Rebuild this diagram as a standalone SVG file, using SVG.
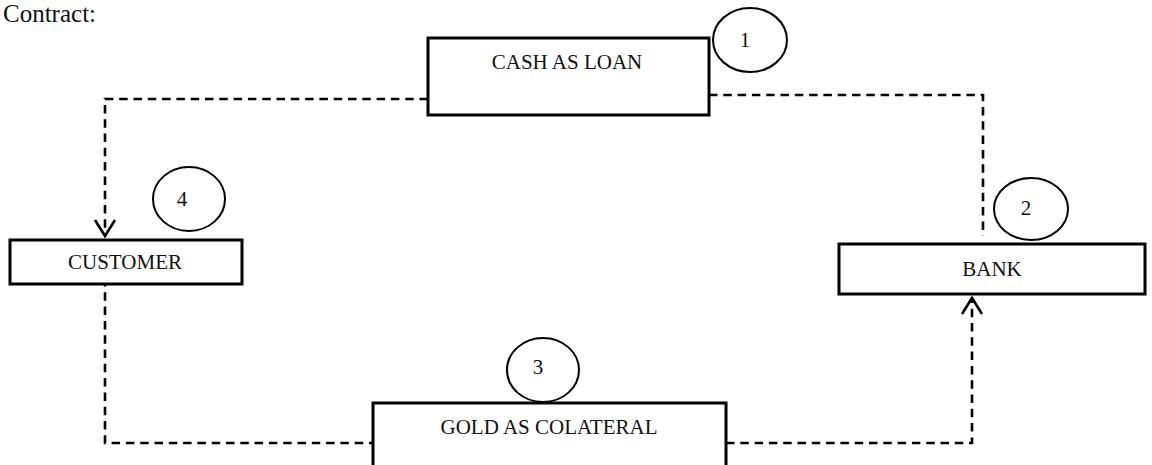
<svg xmlns="http://www.w3.org/2000/svg" width="1152" height="465" viewBox="0 0 1152 465">
<style>
.box{fill:#fff;stroke:#000;stroke-width:3}
.num{fill:#fff;stroke:#000;stroke-width:2}
.lbl{font-family:"Liberation Serif","Times New Roman",serif;font-size:21px;fill:#111;text-anchor:middle}
.conn{fill:none;stroke:#000;stroke-width:2.6;stroke-dasharray:8.5 5.8}
</style>
<defs>
<marker id="open" markerUnits="userSpaceOnUse" viewBox="-20 -12 24 24" refX="0" refY="0" markerWidth="24" markerHeight="24" orient="auto">
<path d="M-16,-10 L0,0 L-16,10" fill="none" stroke="#000" stroke-width="2.6" stroke-dasharray="none"/>
</marker>
</defs>
<rect width="1152" height="465" fill="#fff"/>
<text x="3" y="22" font-family="Liberation Serif, Times New Roman, serif" font-size="25" fill="#111">Contract:</text>
<g id="connectors">
<path class="conn" d="M428,99 H105 V236" marker-end="url(#open)"/>
<path class="conn" d="M709,95 H983 V236"/>
<path class="conn" d="M105,278 V443 H373"/>
<path class="conn" d="M726,443 H972 V298" marker-end="url(#open)"/>
</g>
<g id="cash">
<rect class="box" x="428" y="38" width="281" height="77"/>
<text class="lbl" x="567" y="69">CASH AS LOAN</text>
</g>
<g id="n1">
<ellipse class="num" cx="750" cy="40" rx="37" ry="32"/>
<text class="lbl" x="745" y="47">1</text>
</g>
<g id="customer">
<rect class="box" x="10" y="240" width="232" height="44"/>
<text class="lbl" x="125" y="269">CUSTOMER</text>
</g>
<g id="n4">
<ellipse class="num" cx="189" cy="199" rx="36" ry="32"/>
<text class="lbl" x="182" y="206">4</text>
</g>
<g id="bank">
<rect class="box" x="839" y="244" width="306" height="50"/>
<text class="lbl" x="992" y="276">BANK</text>
</g>
<g id="n2">
<ellipse class="num" cx="1031" cy="209" rx="37" ry="31"/>
<text class="lbl" x="1026" y="215">2</text>
</g>
<g id="gold">
<rect class="box" x="373" y="403" width="353" height="90"/>
<text class="lbl" x="549" y="434">GOLD AS COLATERAL</text>
</g>
<g id="n3">
<ellipse class="num" cx="543" cy="370" rx="36" ry="32"/>
<text class="lbl" x="538" y="374">3</text>
</g>
</svg>
